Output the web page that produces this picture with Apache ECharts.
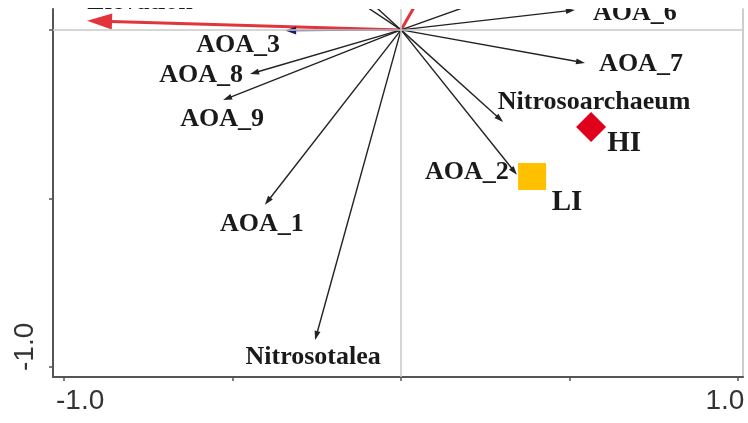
<!DOCTYPE html>
<html><head><meta charset="utf-8">
<script src="https://cdn.jsdelivr.net/npm/echarts@6/dist/echarts.min.js"></script>
<style>html,body{margin:0;padding:0;background:#fff}#c{width:748px;height:423px}</style>
</head><body><div id="c"></div>
<script>
// ---- data (RDA biplot scores) ----
const speciesNames = ['AOA_3','AOA_8','AOA_9','AOA_1','Nitrosotalea','AOA_2','Nitrosoarchaeum','AOA_7','AOA_6','','',''];
const speciesX = [-0.344,-0.448,-0.528,-0.404,-0.255,0.344,0.303,0.546,0.516,-0.45,-0.33,0.56];
const speciesY = [-0.002,-0.131,-0.208,-0.519,-0.920,-0.430,-0.273,-0.098,0.059,0.30,0.30,0.20];
const envNames = ['Elevation',''];
const envX = [-0.932, 0.23];
const envY = [0.027, 0.40];
const sampleNames = ['HI','LI'];
const sampleX = [0.564, 0.389];
const sampleY = [-0.288, -0.435];
const xTicks = [-1,-0.5,0,0.5,1];
const xTickLabels = [-1,1];
const yTicks = [-1,-0.5,0];
const yTickLabels = [-1];

// ---- styles ----
const labelOffsets = {
  'AOA_3':[-47,15],'AOA_8':[-49,1],'AOA_9':[-1,19],'AOA_1':[-3,19],'Nitrosotalea':[-2,17],
  'AOA_2':[-50,-3],'Nitrosoarchaeum':[91,-20],'AOA_7':[56,1],'AOA_6':[60,3],'Elevation':[53,-19]
};
const arrowColors = {'AOA_3':'#1c1c6a'};
const arrowHeads = {'AOA_3':[11,8]};
const sampleStyles = {
  'HI':{symbol:'diamond',symbolSize:[30,30],color:'#e0001b',offset:[33,17]},
  'LI':{symbol:'rect',symbolSize:[28,27],color:'#ffc000',offset:[35,26]}
};

function makeArrow(color, lw, headLen, headW, names){
  return function(params, api){
    const o = api.coord([0,0]);
    const p = api.coord([api.value(0), api.value(1)]);
    const dx = p[0]-o[0], dy = p[1]-o[1];
    const L = Math.hypot(dx,dy), ux = dx/L, uy = dy/L;
    const h = (names && arrowHeads[names[params.dataIndex]]) || [headLen, headW];
    const bx = p[0]-ux*h[0], by = p[1]-uy*h[0];
    const c = (typeof color === 'function') ? color(params.dataIndex) : color;
    return {type:'group', children:[
      {type:'line', shape:{x1:o[0],y1:o[1],x2:bx+ux*1,y2:by+uy*1}, style:{stroke:c,lineWidth:lw}},
      {type:'polygon', shape:{points:[[p[0],p[1]],[bx-uy*h[1]/2,by+ux*h[1]/2],[bx+uy*h[1]/2,by-ux*h[1]/2]]}, style:{fill:c}}
    ]};
  };
}
function makeLabels(names){
  return function(params, api){
    const name = names[params.dataIndex];
    if(!name) return null;
    const p = api.coord([api.value(0), api.value(1)]);
    const off = labelOffsets[name] || [0,0];
    return {type:'text', x:p[0]+off[0], y:p[1]+off[1], style:{
      text:name, fill:'#1a1a1a', font:'bold 26px "Liberation Serif"', align:'center', verticalAlign:'middle'}};
  };
}

const speciesData = speciesX.map((x,i)=>[x,speciesY[i]]);
const envData = envX.map((x,i)=>[x,envY[i]]);
const sampleData = sampleX.map((x,i)=>{
  const s = sampleStyles[sampleNames[i]];
  return {name:sampleNames[i], value:[x,sampleY[i]], symbol:s.symbol, symbolSize:s.symbolSize,
    itemStyle:{color:s.color, opacity:1}, label:{show:true, position:'inside', offset:s.offset, formatter:'{b}',
    color:'#1a1a1a', opacity:1, fontFamily:'Liberation Serif', fontWeight:'bold', fontSize:29}};
});

const tickFont = {fontFamily:'Liberation Sans', fontSize:28, color:'#333'};
const chart = echarts.init(document.getElementById('c'), null, {renderer:'canvas'});
chart.setOption({
  animation:false,
  backgroundColor:'#fff',
  grid:{left:53, right:5, top:9, bottom:46},
  xAxis:{type:'value', min:-1.033, max:1.015, position:'bottom',
    axisLine:{show:true, onZero:false, lineStyle:{color:'#555', width:2}},
    axisTick:{show:true, customValues:xTicks, length:4, lineStyle:{color:'#555', width:1.5}},
    axisLabel:{show:true, customValues:xTickLabels, margin:10,
      formatter:v => v < 0 ? '{l|' + v.toFixed(1) + '}' : '{r|' + v.toFixed(1) + '}',
      rich:{l:Object.assign({padding:[0,0,0,32]}, tickFont), r:Object.assign({padding:[0,26,0,0]}, tickFont)}},
    splitLine:{show:false}},
  yAxis:[
    {type:'value', min:-1.03, max:0.062, position:'left',
     axisLine:{show:true, onZero:false, lineStyle:{color:'#555', width:2}},
     axisTick:{show:true, customValues:yTicks, length:4, lineStyle:{color:'#555', width:1.5}},
     axisLabel:{show:true, customValues:yTickLabels, rotate:90, margin:14,
       formatter:v => '{u|' + v.toFixed(1) + '}',
       rich:{u:Object.assign({padding:[0,0,0,40]}, tickFont)}},
     splitLine:{show:false}},
    {type:'value', min:-1.03, max:0.062, position:'right',
     axisLine:{show:true, onZero:false, lineStyle:{color:'#bdbdbd', width:1.5}},
     axisTick:{show:false}, axisLabel:{show:false}, splitLine:{show:false}}
  ],
  graphic:[{type:'rect', left:0, top:0, shape:{width:748, height:8}, style:{fill:'#fff'}, z:100}],
  series:[
    {type:'scatter', data:[], silent:true, z:1,
     markLine:{symbol:'none', silent:true, label:{show:false},
       lineStyle:{color:'#c9c9c9', width:1.5, type:'solid'}, data:[{xAxis:0},{yAxis:0}]}},
    {type:'custom', clip:true, z:3, renderItem:makeArrow('#e2343b', 3, 25, 16), data:envData},
    {type:'custom', clip:true, z:4, renderItem:makeArrow(i => arrowColors[speciesNames[i]] || '#222', 1.4, 9, 6, speciesNames), data:speciesData},
    {type:'custom', z:5, renderItem:makeLabels(speciesNames), data:speciesData},
    {type:'custom', z:5, renderItem:makeLabels(envNames), data:envData},
    {type:'scatter', z:6, data:sampleData}
  ]
});
</script></body></html>
